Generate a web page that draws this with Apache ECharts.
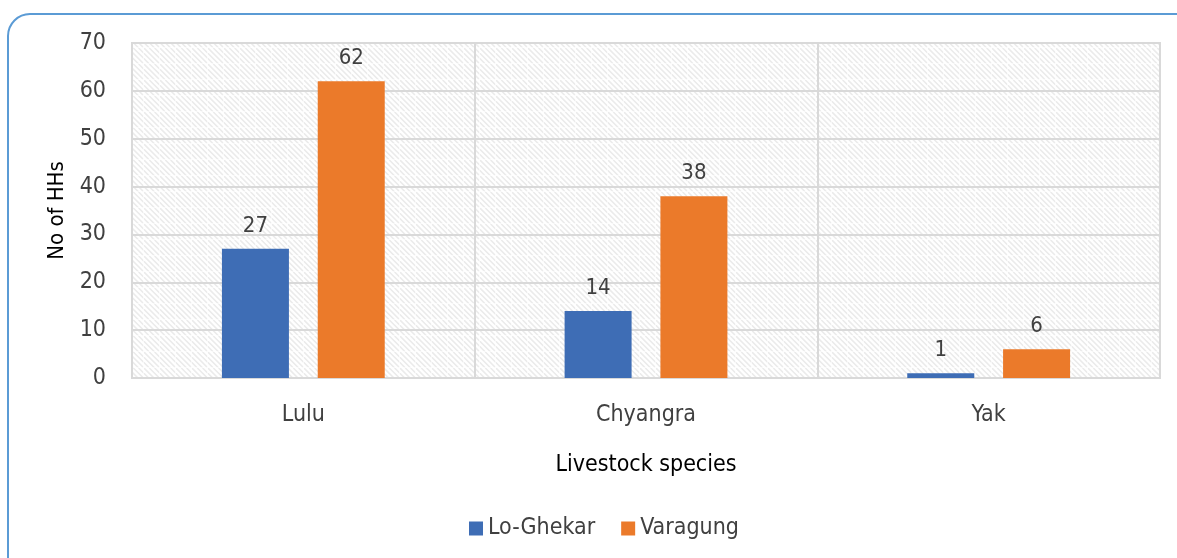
<!DOCTYPE html>
<html>
<head>
<meta charset="utf-8">
<style>
  html, body { margin: 0; padding: 0; background: #fff; }
  #main { width: 1177px; height: 558px; }
</style>
<script src="https://cdn.jsdelivr.net/npm/echarts@6/dist/echarts.min.js"></script>
</head>
<body>
<div id="main"></div>
<script>
const categories = ["Lulu", "Chyangra", "Yak"];
const loGhekar = [27, 14, 1];
const varagung = [62, 38, 6];

const FONT = "'DejaVu Sans Condensed', 'Liberation Sans Narrow', sans-serif";

// hatched plot background like the Excel pattern fill
function makeHatch() {
  let c = document.createElement("canvas");
  c.width = 16;
  c.height = 16;
  let ctx = c.getContext("2d");
  ctx.fillStyle = "#ffffff";
  ctx.fillRect(0, 0, 16, 16);
  ctx.strokeStyle = "#ebebeb";
  ctx.lineWidth = 1.6;
  for (let k = -16; k <= 32; k += 5.33) {
    ctx.beginPath();
    ctx.moveTo(k, 0);
    ctx.lineTo(k + 16, 16);
    ctx.stroke();
  }
  ctx.fillStyle = "rgba(255,255,255,0.6)";
  ctx.fillRect(0, 15, 16, 1);
  ctx.fillRect(15, 0, 1, 16);
  return c;
}

let myChart = echarts.init(document.getElementById("main"));
let option = {
  animation: false,
  textStyle: { fontFamily: FONT },
  graphic: [
    {
      type: "rect",
      shape: { x: 8, y: 14, width: 1200, height: 600, r: 22 },
      style: { fill: "none", stroke: "#5b9bd5", lineWidth: 2 },
      z: -10,
    },
  ],
  grid: {
    left: 132,
    right: 17,
    top: 43,
    bottom: 180,
    show: true,
    backgroundColor: { image: makeHatch(), repeat: "repeat" },
    borderColor: "#d9d9d9",
    borderWidth: 2,
  },
  legend: {
    bottom: 13,
    left: 464,
    itemWidth: 14,
    itemHeight: 14,
    itemGap: 26,
    icon: "rect",
    textStyle: { fontSize: 23, color: "#404040", fontFamily: FONT },
  },
  xAxis: {
    type: "category",
    data: categories,
    name: "Livestock species",
    nameLocation: "middle",
    nameGap: 76,
    nameTextStyle: { fontSize: 23, color: "#000", fontFamily: FONT },
    axisLine: { lineStyle: { color: "#d9d9d9", width: 2 } },
    axisTick: { show: false },
    axisLabel: { fontSize: 23, color: "#404040", margin: 26 },
    splitLine: { show: true, lineStyle: { color: "#d9d9d9", width: 2 } },
  },
  yAxis: {
    type: "value",
    min: 0,
    max: 70,
    interval: 10,
    name: "No of HHs",
    nameLocation: "middle",
    nameGap: 62,
    nameTextStyle: { fontSize: 22, color: "#000", fontFamily: FONT },
    axisLine: { show: false },
    axisTick: { show: false },
    axisLabel: { fontSize: 23, color: "#404040", margin: 26 },
    splitLine: { lineStyle: { color: "#d9d9d9", width: 2 } },
  },
  series: [
    {
      name: "Lo-Ghekar",
      type: "bar",
      data: loGhekar,
      barWidth: 67,
      barGap: "43%",
      itemStyle: { color: "#3e6db5" },
      label: {
        show: true,
        position: "top",
        distance: 12,
        fontSize: 22,
        color: "#404040",
        fontFamily: FONT,
      },
    },
    {
      name: "Varagung",
      type: "bar",
      data: varagung,
      barWidth: 67,
      itemStyle: { color: "#eb7a2a" },
      label: {
        show: true,
        position: "top",
        distance: 12,
        fontSize: 22,
        color: "#404040",
        fontFamily: FONT,
      },
    },
  ],
};
option && myChart.setOption(option);
</script>
</body>
</html>
